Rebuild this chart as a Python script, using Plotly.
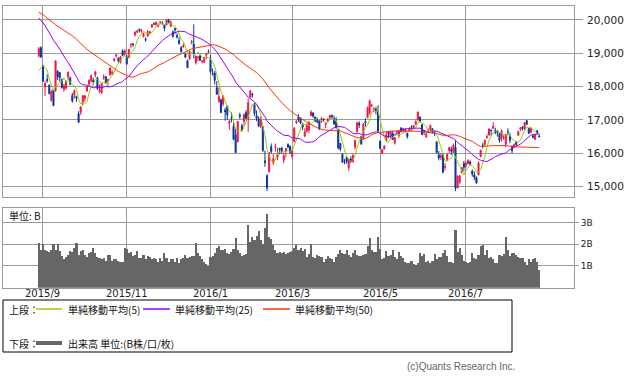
import pandas as pd
import plotly.graph_objects as go

# ---------------- data ----------------
jp_holidays = ["2015-09-21", "2015-09-22", "2015-09-23", "2015-10-12", "2015-11-03",
               "2015-11-23", "2015-12-23", "2015-12-31", "2016-01-01", "2016-01-11",
               "2016-02-11", "2016-03-21", "2016-04-29", "2016-05-03", "2016-05-04",
               "2016-05-05", "2016-07-18", "2016-08-11"]
start_date = "2015-08-28"
end_date = "2016-08-23"

# closes before the first shown day (for moving averages)
prior_closes = [20174, 20428, 20809, 20868, 20771, 20706, 20109, 20236,
                20329, 20522, 20539, 20112, 20376, 19737, 19855, 19780, 20089, 20385, 20463,
                20600, 20650, 20841, 20593, 20683, 20545, 20350, 20328, 20302, 20522, 20585,
                20548, 20520, 20614, 20664, 20724, 20808, 20720, 20392, 20595, 20519, 20620,
                20554, 20222, 20033, 19435, 18540, 17806, 18376, 18574]

opens = [18927, 19168,
         18634, 17987, 18216, 18046, 17585, 17890, 17875, 18460, 18426, 18213, 17922, 17959, 18289, 18262,
         17733, 17740, 17707, 17186, 17225,
         17520, 17636, 17872, 18077, 18178, 18185, 18350, 18264, 17852, 17815, 18275, 18296, 18166, 18355,
         18398, 18785, 18921, 18855, 18733, 19071, 18966,
         18920, 18870, 19250, 19276, 19548, 19634, 19728, 19660, 19496, 19423, 19515, 19586, 19789, 19880,
         19866, 19803, 19920, 19904, 19852,
         19851, 19990, 19814, 19646, 19749, 19531, 19386, 19170, 19188, 18977, 18781, 18836, 19325, 19276,
         18717, 18865, 18920, 18751, 18728, 18947, 19039,
         18818, 18398, 18410, 17968, 17562, 17601, 17476, 17298, 17416, 16898, 17055, 16800, 16548, 16339,
         17150, 16826, 16959, 17224, 17005,
         17686, 17770, 17490, 17128, 17025, 16804, 16795, 15773, 15327, 15434, 16194, 15705, 16174, 15873,
         16151, 16152, 15796, 16063, 16267, 16213,
         15903, 16344, 16919, 17081, 17047, 16871, 16515, 16661, 16700, 17127, 17211, 17089, 16983, 16974,
         16981, 17015, 16859, 16960, 17066, 17127, 17040, 16959,
         16719, 16296, 15965, 15728, 15869, 15564, 15827, 15741, 16187, 16641, 16899, 16508, 16431, 16945,
         17067, 17214, 17430, 17300, 17322, 17246,
         16357, 15997, 16133, 16380, 16648, 16496, 16591, 16303, 16642, 16533, 16759, 16679, 16707, 16603,
         16664, 16789, 16775, 16877, 17000,
         17086, 16858, 16680, 16493, 16669, 16700, 16737, 16620, 16344, 15953, 15879, 15957, 15568, 15812,
         16081, 16110, 16015, 16175, 14952, 15123, 15417, 15696,
         15635, 15680, 15739, 15465, 15351, 15271, 15347, 15897, 16245, 16265, 16474, 16544, 16684, 16747,
         16693, 16640, 16591, 16461, 16465, 16269,
         16642, 16522, 16193, 16191, 16328, 16538, 16722, 16789, 16727, 16979, 16744, 16629, 16524, 16414,
         16672, 16516]

highs = [19192, 19208,
         18634, 18174, 18367, 18063, 17894, 17920, 18790, 18493, 18426, 18243, 18080, 18181, 18448, 18299,
         17812, 17914, 17723, 17263, 17401,
         17752, 17752, 18015, 18217, 18369, 18265, 18469, 18299, 18066, 18109, 18367, 18322, 18236, 18576,
         18494, 18849, 18982, 18872, 18911, 19117, 19117,
         18934, 19116, 19303, 19316, 19650, 19695, 19728, 19723, 19616, 19480, 19700, 19665, 19875, 19933,
         19952, 19900, 19959, 19963, 19860,
         20012, 20036, 19976, 19680, 19749, 19600, 19486, 19215, 19306, 19016, 18814, 19080, 19404, 19869,
         18927, 18913, 18972, 18784, 18898, 18991, 19113,
         18951, 18547, 18469, 18172, 17975, 17640, 17737, 17366, 17419, 17009, 17237, 16920, 16740, 16959,
         17217, 16881, 17187, 17298, 17638,
         17905, 17813, 17502, 17285, 17105, 17109, 16806, 16079, 15367, 16022, 16293, 15979, 16291, 16162,
         16158, 16190, 16015, 16151, 16291, 16225,
         16137, 16786, 16994, 17174, 17071, 16912, 16743, 16897, 16952, 17291, 17225, 17100, 17066, 16986,
         17080, 17052, 16908, 17068, 17140, 17168, 17132, 17080,
         16719, 16296, 16006, 15821, 15911, 15830, 15904, 15975, 16399, 16946, 16962, 16508, 16909, 17055,
         17403, 17613, 17485, 17367, 17366, 17441,
         16390, 16131, 16235, 16631, 16655, 16646, 16673, 16482, 16669, 16702, 16780, 16759, 16740, 16607,
         16773, 16841, 16840, 16981, 17251,
         17097, 16867, 16694, 16595, 16741, 16859, 16740, 16675, 16344, 16064, 16006, 15988, 15705, 15991,
         16192, 16200, 16289, 16389, 15336, 15341, 15568, 15770,
         15745, 15820, 15786, 15511, 15447, 15303, 15759, 16096, 16306, 16403, 16569, 16749, 16718, 16938,
         16766, 16693, 16599, 16719, 16540, 16572,
         16746, 16614, 16240, 16296, 16364, 16674, 16784, 16814, 16925, 16996, 16748, 16770, 16570, 16574,
         16700, 16563]

lows = [18872, 18860,
        18142, 17714, 18113, 17763, 17550, 17415, 17850, 18196, 18156, 17946, 17844, 17896, 18197, 18038,
        17516, 17642, 17541, 16901, 17150,
        17425, 17543, 17840, 18018, 18120, 18055, 18277, 17900, 17805, 17782, 18201, 18093, 18008, 18324,
        18350, 18748, 18868, 18726, 18694, 18919, 18928,
        18652, 18870, 19149, 19190, 19508, 19608, 19624, 19621, 19480, 19349, 19506, 19570, 19762, 19851,
        19822, 19780, 19872, 19873, 19663,
        19851, 19912, 19787, 19469, 19578, 19442, 19253, 19028, 19174, 18853, 18562, 18800, 19271, 18850,
        18662, 18760, 18767, 18693, 18714, 18811, 19006,
        18394, 18327, 18064, 17767, 17509, 17218, 17406, 16976, 17002, 16695, 16927, 16387, 16017, 16331,
        17032, 16647, 16827, 17041, 16640,
        17656, 17670, 17116, 16962, 16784, 16752, 16031, 15594, 14865, 15435, 15991, 15648, 16048, 15787,
        15967, 15979, 15703, 15872, 16138, 15973,
        15843, 16338, 16876, 16937, 16875, 16696, 16480, 16622, 16602, 17120, 17062, 16925, 16893, 16690,
        16908, 16960, 16755, 16921, 17022, 17034, 16853, 16739,
        16113, 16058, 15712, 15667, 15685, 15471, 15710, 15726, 16112, 16632, 16753, 16252, 16404, 16805,
        17051, 17150, 17380, 17226, 17164, 16608,
        16112, 15975, 16106, 16357, 16457, 16419, 16412, 16264, 16563, 16459, 16628, 16595, 16617, 16439,
        16661, 16717, 16735, 16840, 16974,
        16922, 16558, 16552, 16457, 16640, 16673, 16584, 16511, 15990, 15785, 15793, 15395, 15488, 15756,
        15999, 15953, 16002, 14864, 14952, 15084, 15391, 15451,
        15565, 15679, 15644, 15295, 15190, 15085, 15347, 15873, 16138, 16219, 16439, 16531, 16524, 16741,
        16570, 16500, 16315, 16348, 16401, 16183,
        16546, 16299, 15996, 16167, 16218, 16512, 16666, 16684, 16708, 16848, 16574, 16612, 16439, 16402,
        16583, 16471]

closes = [19136, 18890,
          18165, 18095, 18182, 17792, 17860, 17427, 18770, 18299, 18264, 17965, 18026, 18171, 18432, 18070,
          17571, 17880, 17645, 16930, 17388,
          17722, 17725, 18005, 18186, 18322, 18141, 18438, 17940, 17891, 18096, 18291, 18131, 18207, 18554,
          18435, 18826, 18947, 18777, 18903, 18935, 19083,
          18683, 19116, 19265, 19265, 19642, 19671, 19697, 19697, 19596, 19394, 19649, 19649, 19859, 19879,
          19924, 19847, 19944, 19883, 19747,
          20012, 19938, 19939, 19504, 19698, 19492, 19301, 19046, 19230, 18883, 18565, 19049, 19353, 18986,
          18916, 18886, 18789, 18769, 18873, 18982, 19033,
          18450, 18374, 18191, 17767, 17697, 17218, 17715, 17240, 17147, 16955, 17048, 16416, 16017, 16958,
          17110, 16708, 17163, 17041, 17518,
          17865, 17750, 17191, 17044, 16819, 17004, 16085, 15713, 14952, 16022, 16054, 15836, 16196, 15967,
          16111, 16052, 15915, 16140, 16188, 16027,
          16085, 16746, 16960, 17015, 16911, 16784, 16642, 16852, 16939, 17234, 17117, 16974, 16937, 16725,
          17049, 17001, 16892, 17003, 17135, 17103, 16879, 16758,
          16164, 16123, 15732, 15715, 15749, 15821, 15751, 15928, 16381, 16911, 16848, 16275, 16874, 16906,
          17363, 17572, 17440, 17353, 17290, 16666,
          16147, 16106, 16216, 16565, 16579, 16646, 16412, 16466, 16652, 16644, 16646, 16736, 16654, 16498,
          16757, 16772, 16834, 16955, 17234,
          16955, 16562, 16642, 16580, 16675, 16830, 16668, 16601, 16019, 15859, 15919, 15434, 15599, 15965,
          16169, 16065, 16238, 14952, 15309, 15323, 15566, 15575,
          15682, 15775, 15669, 15378, 15276, 15106, 15708, 16095, 16231, 16385, 16497, 16723, 16681, 16810,
          16627, 16620, 16383, 16664, 16476, 16569,
          16635, 16391, 16083, 16254, 16254, 16650, 16764, 16735, 16919, 16869, 16596, 16745, 16486, 16545,
          16598, 16497]

volumes = [2.05, 1.75,
           2.0, 1.75, 1.7, 1.65, 1.75, 2.0, 1.75, 2.0, 1.7, 1.45, 1.3, 1.4, 1.5, 1.7, 1.65, 1.85, 2.05, 1.5,
           1.7,
           1.75, 1.5, 1.4, 1.6, 1.65, 1.85, 1.6, 1.4, 1.35, 1.3, 1.35, 1.25, 1.5, 1.5, 1.25, 1.3, 1.3, 1.25,
           1.2, 1.2, 1.85,
           1.8, 1.6, 1.65, 1.45, 1.5, 1.7, 1.35, 1.35, 1.5, 1.3, 1.45, 1.4, 1.3, 1.35, 1.3, 1.2, 1.35, 1.25,
           1.6,
           1.35, 1.2, 1.3, 1.3, 1.2, 1.35, 1.15, 1.3, 1.35, 1.5, 1.35, 1.4, 1.45, 1.45, 2.05, 1.6, 1.45, 1.3,
           1.2, 1.1, 1.0,
           1.4, 1.45, 1.6, 1.85, 1.9, 1.75, 1.75, 1.8, 1.6, 1.55, 1.65, 1.8, 2.3, 1.75, 1.6, 1.45, 1.5, 1.55,
           2.9,
           2.1, 2.35, 2.2, 2.4, 2.6, 2.2, 2.0, 2.75, 3.4, 2.35, 2.25, 1.95, 1.75, 1.6, 1.65, 1.6, 1.65, 1.55,
           1.6, 1.65,
           1.7, 1.85, 1.95, 1.75, 1.85, 1.7, 1.8, 1.4, 1.55, 2.0, 1.4, 1.35, 1.5, 1.45, 1.4, 1.2, 1.3, 1.45,
           1.35, 1.3, 1.2, 1.4,
           1.55, 1.75, 1.6, 1.55, 1.75, 1.5, 1.4, 1.6, 1.75, 1.5, 1.45, 1.45, 1.5, 1.55, 1.9, 2.3, 1.75, 1.65,
           1.65, 2.35,
           1.8, 1.3, 1.35, 1.7, 1.45, 1.5, 1.75, 1.4, 1.3, 1.65, 1.45, 1.35, 1.2, 1.15, 1.15, 1.25, 1.1, 1.05,
           1.15,
           1.6, 1.45, 1.55, 1.2, 1.25, 1.15, 1.25, 1.55, 1.3, 1.4, 1.4, 1.6, 1.75, 1.45, 1.2, 1.2, 1.15, 2.65,
           1.65, 1.85, 1.5, 1.25,
           1.2, 1.15, 1.2, 1.6, 1.35, 1.3, 1.5, 1.9, 1.95, 1.5, 1.75, 1.35, 1.4, 1.3, 1.15, 1.15, 1.5, 1.45,
           1.55, 2.35,
           1.75, 1.45, 1.6, 1.6, 1.5, 1.4, 1.35, 1.35, 1.2, 1.05, 1.3, 1.2, 1.3, 1.35, 1.2, 0.8]

price_ticks = [15000, 16000, 17000, 18000, 19000, 20000]
price_tick_labels = ["15,000", "16,000", "17,000", "18,000", "19,000", "20,000"]
vol_ticks = [1, 2, 3]
vol_tick_labels = ["1B", "2B", "3B"]
month_labels = {"2015-09": "2015/9", "2015-11": "2015/11", "2016-01": "2016/1",
                "2016-03": "2016/3", "2016-05": "2016/5", "2016-07": "2016/7"}

ma_periods = [5, 25, 50]
ma_names = ["単純移動平均(5)", "単純移動平均(25)", "単純移動平均(50)"]

# ---------------- styling ----------------
UP = "#f0164a"
DOWN = "#0a34a0"
MA_COLORS = ["#99cc00", "#9900ff", "#ff3300"]
GRID = "#9a9a9a"
VOL = "#666666"
W, H = 624, 376
JP = "Noto Sans CJK JP"
NUM = "DejaVu Sans"

dates = pd.bdate_range(start_date, end_date, freq="C", holidays=jp_holidays)
n = len(closes)
assert len(dates) == n == len(opens) == len(highs) == len(lows) == len(volumes), \
    (len(dates), n, len(opens), len(highs), len(lows), len(volumes))
idx = list(range(n))

# month-start tick positions
tickvals, ticktext = [], []
prev = None
for i, d in enumerate(dates):
    key = d.strftime("%Y-%m")
    if key != prev:
        if key in month_labels:
            tickvals.append(i)
            ticktext.append(month_labels[key])
        prev = key

all_close = pd.Series(prior_closes + closes, dtype=float)
mas = [all_close.rolling(p).mean().iloc[len(prior_closes):].tolist() for p in ma_periods]


def px_x(p):
    return p / W


def px_y(p):
    return 1 - p / H


fig = go.Figure()
fig.add_trace(go.Candlestick(
    x=idx, open=opens, high=highs, low=lows, close=closes,
    increasing=dict(line=dict(color=UP, width=1), fillcolor=UP),
    decreasing=dict(line=dict(color=DOWN, width=1), fillcolor=DOWN),
    whiskerwidth=0, xaxis="x", yaxis="y", showlegend=False, hoverinfo="skip"))
for m, c in zip(mas, MA_COLORS):
    fig.add_trace(go.Scatter(x=idx, y=m, mode="lines", line=dict(color=c, width=1),
                             xaxis="x", yaxis="y", showlegend=False, hoverinfo="skip"))
fig.add_trace(go.Bar(x=idx, y=volumes, marker=dict(color=VOL, line=dict(width=0)),
                     xaxis="x2", yaxis="y2", showlegend=False, hoverinfo="skip"))

# index <-> pixel: day 0 at x≈38.8px, 2.094px per trading day, plot spans 3..574px
x0_idx = (3 - 38.8) / 2.094
x1_idx = (574 - 38.8) / 2.094
xdom = [px_x(3), px_x(574)]

common_x = dict(domain=xdom, range=[x0_idx, x1_idx], tickvals=tickvals, showgrid=True,
                gridcolor=GRID, gridwidth=1, showline=True, mirror=True, linecolor=GRID,
                linewidth=1, zeroline=False, rangeslider=dict(visible=False), fixedrange=True,
                showticklabels=False, ticks="")

fig.update_layout(
    width=W, height=H, margin=dict(l=0, r=0, t=0, b=0),
    paper_bgcolor="white", plot_bgcolor="white", bargap=0,
    xaxis=dict(**common_x, anchor="y"),
    xaxis2=dict(**common_x, anchor="y2"),
    yaxis=dict(domain=[px_y(197), px_y(6)], range=[14685, 20420], side="right",
               tickvals=price_ticks, ticktext=price_tick_labels, showgrid=True, gridcolor=GRID,
               showline=True, mirror=True, linecolor=GRID, zeroline=False, ticks="outside",
               ticklen=8, tickcolor=GRID, tickfont=dict(family=NUM, size=10.5, color="#222"),
               ticklabelstandoff=2, anchor="x", fixedrange=True),
    yaxis2=dict(domain=[px_y(287.7), px_y(208)], range=[0, 3.67], side="right",
                tickvals=vol_ticks, ticktext=vol_tick_labels, showgrid=True, gridcolor=GRID,
                showline=True, mirror=True, linecolor=GRID, zeroline=False, ticks="outside",
                ticklen=4, tickcolor=GRID, tickfont=dict(family=NUM, size=9, color="#222"),
                ticklabelstandoff=0, anchor="x2", fixedrange=True),
)

annotations = [
    dict(x=px_x(7), y=px_y(215), text="単位: B", font=dict(family=JP, size=10, color="#111")),
    dict(x=px_x(7), y=px_y(309), text="上段：", font=dict(family=JP, size=10, color="#111")),
    dict(x=px_x(7), y=px_y(343), text="下段：", font=dict(family=JP, size=10, color="#111")),
    dict(x=px_x(66), y=px_y(343), text="出来高 単位:(B株/口/枚)", font=dict(family=JP, size=10, color="#111")),
    dict(x=px_x(517), y=px_y(366), text="(c)Quants Research Inc.", xanchor="right",
         font=dict(family="Liberation Sans", size=10, color="#666")),
]
# month labels under the volume panel, placed through the x2 axis scale
for tv, tt in zip(tickvals, ticktext):
    annotations.append(dict(x=tv, xref="x2", y=px_y(293), text=tt, xanchor="center",
                            font=dict(family=NUM, size=10, color="#222")))

leg_x = [(36, 62, 66), (143, 170, 173), (263, 290, 293)]
shapes = [dict(type="rect", xref="paper", yref="paper", x0=px_x(3), x1=px_x(512),
               y0=px_y(352), y1=px_y(300), line=dict(color="#000", width=1))]
for (a, b, t), c, name in zip(leg_x, MA_COLORS, ma_names):
    shapes.append(dict(type="line", xref="paper", yref="paper", x0=px_x(a), x1=px_x(b),
                       y0=px_y(309), y1=px_y(309), line=dict(color=c, width=1.5)))
    annotations.append(dict(x=px_x(t), y=px_y(309), text=name,
                            font=dict(family=JP, size=10, color="#111")))
shapes.append(dict(type="line", xref="paper", yref="paper", x0=px_x(36), x1=px_x(62),
                   y0=px_y(343), y1=px_y(343), line=dict(color=VOL, width=4)))
for a in annotations:
    a.setdefault("xanchor", "left")
    a.setdefault("xref", "paper")
    a.update(yref="paper", yanchor="middle", showarrow=False)
fig.update_layout(annotations=annotations, shapes=shapes)

fig.write_html("out.html", config={"displayModeBar": False, "staticPlot": True},
               post_script="document.body.style.margin='0';document.body.style.overflow='hidden';")
